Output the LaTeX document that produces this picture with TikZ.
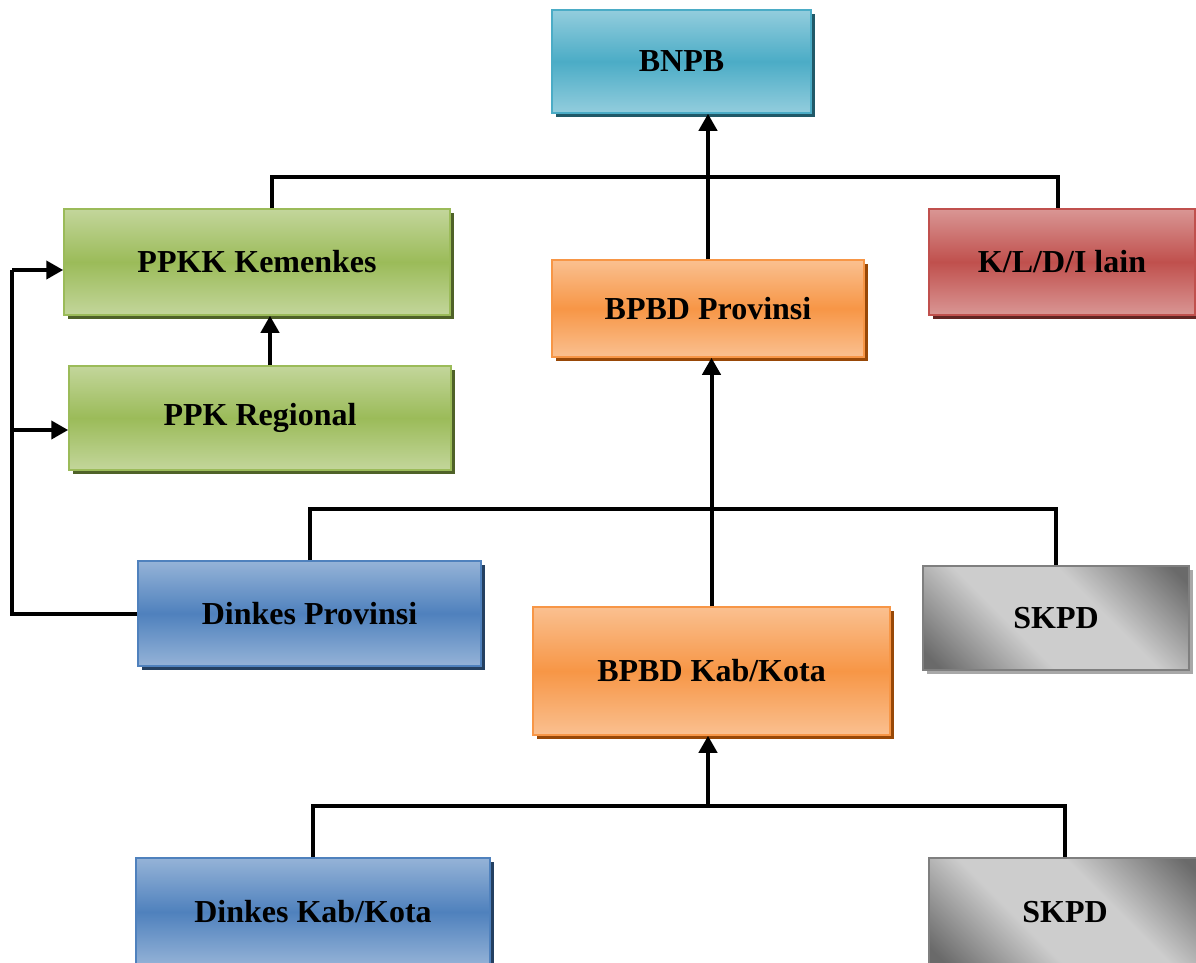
\documentclass[tikz,border=0pt]{standalone}
\usepackage{fontspec}
\setmainfont{Liberation Serif}
\usetikzlibrary{arrows.meta,shadows,calc}
\definecolor{tealM}{HTML}{4BACC6}\definecolor{tealL}{HTML}{93CDDD}\definecolor{tealS}{HTML}{215968}
\definecolor{grnM}{HTML}{9BBB59}\definecolor{grnL}{HTML}{C3D69B}\definecolor{grnS}{HTML}{4F6228}
\definecolor{orgM}{HTML}{F79646}\definecolor{orgL}{HTML}{FAC090}\definecolor{orgS}{HTML}{984807}
\definecolor{redM}{HTML}{C0504D}\definecolor{redL}{HTML}{D99694}\definecolor{redS}{HTML}{632523}
\definecolor{bluM}{HTML}{4F81BD}\definecolor{bluL}{HTML}{95B3D7}\definecolor{bluS}{HTML}{244061}
\definecolor{gryD}{HTML}{6A6A6A}\definecolor{gryL}{HTML}{CDCDCD}\definecolor{gryB}{HTML}{7F7F7F}\definecolor{gryS}{HTML}{A8A8A8}
\pgfdeclarehorizontalshading{skpdsh}{100bp}{color(0bp)=(gryD); color(18bp)=(gryD); color(40bp)=(gryL); color(60bp)=(gryL); color(82bp)=(gryD); color(100bp)=(gryD)}
\tikzset{
  box/.style n args={3}{draw=#1, line width=1.5pt, top color=#2, bottom color=#2, middle color=#1,
    drop shadow={shadow xshift=4pt, shadow yshift=-4pt, opacity=1, fill=#3},
    font=\fontsize{32}{38}\selectfont\bfseries, align=center, inner sep=0pt},
  graybox/.style={draw=gryB, line width=1.5pt, shading=skpdsh, shading angle=45,
    drop shadow={shadow xshift=4pt, shadow yshift=-4pt, opacity=1, fill=gryS},
    font=\fontsize{32}{38}\selectfont\bfseries, align=center, inner sep=0pt},
  conn/.style={line width=4pt, line join=miter},
  arr/.style={conn, -{Triangle[width=18pt,length=17pt]}}
}
\begin{document}
\begin{tikzpicture}[x=1pt,y=1pt]
\useasboundingbox (0,0) rectangle (1196,-962);
% nodes
\node[box={tealM}{tealL}{tealS}, minimum width=259pt, minimum height=103pt] (bnpb) at (681.5,-61.5) {BNPB};
\node[box={grnM}{grnL}{grnS}, minimum width=386pt, minimum height=106pt] (ppkk) at (257,-262) {PPKK Kemenkes};
\node[box={redM}{redL}{redS}, minimum width=266pt, minimum height=106pt] (kl) at (1062,-262) {K/L/D/I lain};
\node[box={orgM}{orgL}{orgS}, minimum width=312pt, minimum height=97pt] (bprov) at (708,-308.5) {BPBD Provinsi};
\node[box={grnM}{grnL}{grnS}, minimum width=382pt, minimum height=104pt] (ppkr) at (260,-418) {PPK Regional};
\node[box={bluM}{bluL}{bluS}, minimum width=343pt, minimum height=105pt] (dprov) at (309.5,-613.5) {Dinkes Provinsi};
\node[graybox, minimum width=266pt, minimum height=104pt] (skpda) at (1056,-618) {SKPD};
\node[box={orgM}{orgL}{orgS}, minimum width=357pt, minimum height=128pt] (bkab) at (711.5,-671) {BPBD Kab/Kota};
\node[box={bluM}{bluL}{bluS}, minimum width=354pt, minimum height=108pt] (dkab) at (313,-912) {Dinkes Kab/Kota};
\node[graybox, minimum width=272pt, minimum height=108pt] (skpdb) at (1065,-912) {SKPD};
% coordinates
\coordinate (t1) at (272,-177);
\coordinate (t2) at (1058,-177);
\coordinate (rx) at (270,0);
\coordinate (L1) at (12,-270);
\coordinate (L2) at (12,-430);
\coordinate (M) at (0,-509);
\coordinate (B) at (0,-806);
\coordinate (B2) at (708,-806);
% connectors
\draw[conn] (ppkk.north -| t1) -- (t1) -- (t2) -- (kl.north -| t2);
\draw[arr] (bprov.north) -- (bprov.north |- bnpb.south);
\draw[arr] (ppkr.north -| rx) -- (ppkk.south -| rx);
\draw[conn] (dprov.west) -- (L1 |- dprov.west) -- (L1);
\draw[arr] (L1) -- (ppkk.west |- L1);
\draw[arr] (L2) -- (ppkr.west |- L2);
\draw[conn] (dprov.north) -- (dprov.north |- M) -- (skpda.north |- M) -- (skpda.north);
\draw[arr] (bkab.north) -- (bkab.north |- bprov.south);
\draw[conn] (dkab.north) -- (dkab.north |- B) -- (skpdb.north |- B) -- (skpdb.north);
\draw[arr] (B2) -- (bkab.south -| B2);
\end{tikzpicture}
\end{document}
